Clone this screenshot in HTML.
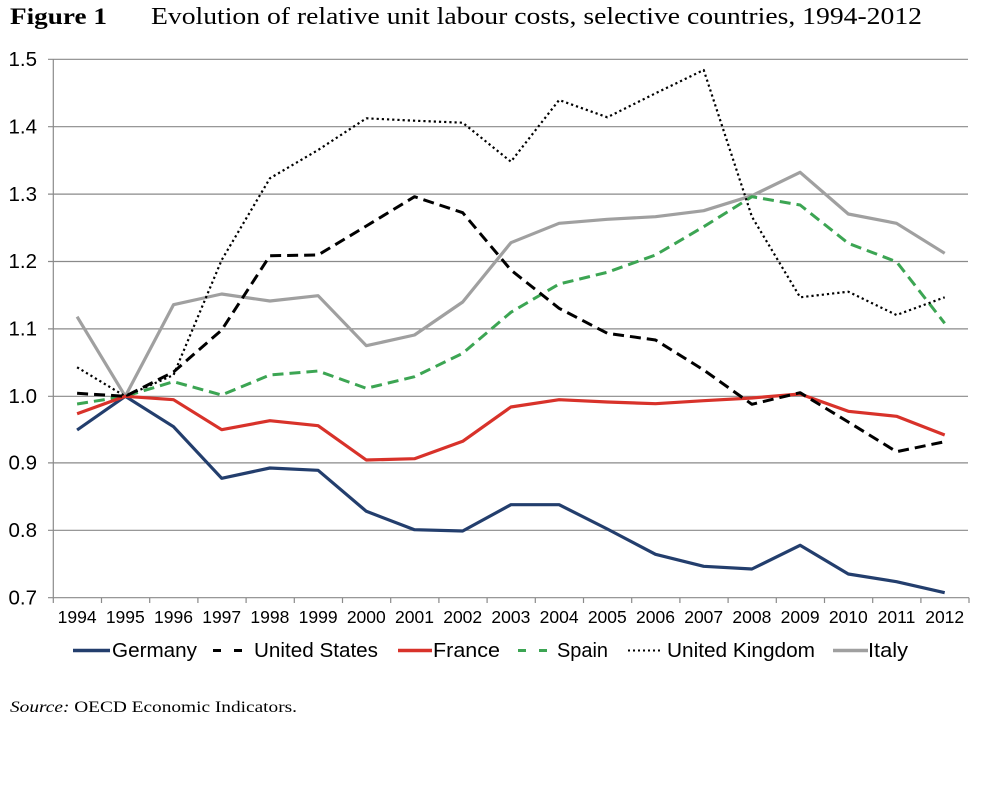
<!DOCTYPE html>
<html>
<head>
<meta charset="utf-8">
<style>
html,body{margin:0;padding:0;background:#fff;}
svg{display:block;}
</style>
</head>
<body>
<svg width="984" height="807" viewBox="0 0 984 807" xmlns="http://www.w3.org/2000/svg">
<rect width="984" height="807" fill="#fff"/>
<!-- Title -->
<text x="10" y="24" font-family="Liberation Serif, serif" font-weight="bold" font-size="23" textLength="97" lengthAdjust="spacingAndGlyphs" fill="#000">Figure 1</text>
<text x="151" y="24" font-family="Liberation Serif, serif" font-size="24" textLength="771" lengthAdjust="spacingAndGlyphs" fill="#000">Evolution of relative unit labour costs, selective countries, 1994-2012</text>

<!-- Gridlines -->
<g stroke="#8a8a8a" stroke-width="1.2" fill="none">
<line x1="48" y1="59.3" x2="968" y2="59.3"/>
<line x1="48" y1="126.7" x2="968" y2="126.7"/>
<line x1="48" y1="194.1" x2="968" y2="194.1"/>
<line x1="48" y1="261.5" x2="968" y2="261.5"/>
<line x1="48" y1="328.9" x2="968" y2="328.9"/>
<line x1="48" y1="396.3" x2="968" y2="396.3"/>
<line x1="48" y1="462.9" x2="968" y2="462.9"/>
<line x1="48" y1="530.3" x2="968" y2="530.3"/>
<line x1="48" y1="597.7" x2="969" y2="597.7"/>
<line x1="53.3" y1="59.3" x2="53.3" y2="597.7"/>
</g>
<!-- X ticks -->
<g stroke="#8a8a8a" stroke-width="1.2">
<line x1="53.3" y1="597.7" x2="53.3" y2="603"/>
<line x1="101.5" y1="597.7" x2="101.5" y2="603"/>
<line x1="149.7" y1="597.7" x2="149.7" y2="603"/>
<line x1="197.9" y1="597.7" x2="197.9" y2="603"/>
<line x1="246.1" y1="597.7" x2="246.1" y2="603"/>
<line x1="294.3" y1="597.7" x2="294.3" y2="603"/>
<line x1="342.5" y1="597.7" x2="342.5" y2="603"/>
<line x1="390.7" y1="597.7" x2="390.7" y2="603"/>
<line x1="438.9" y1="597.7" x2="438.9" y2="603"/>
<line x1="487.1" y1="597.7" x2="487.1" y2="603"/>
<line x1="535.3" y1="597.7" x2="535.3" y2="603"/>
<line x1="583.5" y1="597.7" x2="583.5" y2="603"/>
<line x1="631.7" y1="597.7" x2="631.7" y2="603"/>
<line x1="679.9" y1="597.7" x2="679.9" y2="603"/>
<line x1="728.1" y1="597.7" x2="728.1" y2="603"/>
<line x1="776.3" y1="597.7" x2="776.3" y2="603"/>
<line x1="824.5" y1="597.7" x2="824.5" y2="603"/>
<line x1="872.7" y1="597.7" x2="872.7" y2="603"/>
<line x1="920.9" y1="597.7" x2="920.9" y2="603"/>
<line x1="969" y1="597.7" x2="969" y2="603"/>
</g>

<!-- Y labels -->
<g font-family="Liberation Sans, sans-serif" font-size="20.5" fill="#000" text-anchor="end">
<text x="37" y="66">1.5</text>
<text x="37" y="133.4">1.4</text>
<text x="37" y="200.8">1.3</text>
<text x="37" y="268.2">1.2</text>
<text x="37" y="335.6">1.1</text>
<text x="37" y="403">1.0</text>
<text x="37" y="469.6">0.9</text>
<text x="37" y="537">0.8</text>
<text x="37" y="604.4">0.7</text>
</g>

<!-- X labels -->
<g font-family="Liberation Sans, sans-serif" font-size="17.5" fill="#000" text-anchor="middle">
<text x="77.1" y="623">1994</text>
<text x="125.3" y="623">1995</text>
<text x="173.5" y="623">1996</text>
<text x="221.7" y="623">1997</text>
<text x="269.9" y="623">1998</text>
<text x="318.1" y="623">1999</text>
<text x="366.3" y="623">2000</text>
<text x="414.5" y="623">2001</text>
<text x="462.7" y="623">2002</text>
<text x="510.9" y="623">2003</text>
<text x="559.1" y="623">2004</text>
<text x="607.3" y="623">2005</text>
<text x="655.5" y="623">2006</text>
<text x="703.7" y="623">2007</text>
<text x="751.9" y="623">2008</text>
<text x="800.1" y="623">2009</text>
<text x="848.3" y="623">2010</text>
<text x="896.5" y="623">2011</text>
<text x="944.7" y="623">2012</text>
</g>

<!-- Series -->
<g fill="none" stroke-linejoin="round">
<!-- Italy -->
<polyline stroke="#a0a0a0" stroke-width="3.2" points="77.1,316.7 125.3,396.3 173.5,304.7 221.7,294 269.9,301 318.1,295.7 366.3,345.7 414.5,335 462.7,302 510.9,242.7 559.1,223.3 607.3,219.3 655.5,216.7 703.7,210.7 751.9,195.7 800.1,172.3 848.3,214 896.5,223.3 944.7,253.3"/>
<!-- Spain -->
<polyline stroke="#3ca553" stroke-width="3" stroke-dasharray="11 6" points="77.1,404 125.3,396.3 173.5,381.7 221.7,395 269.9,375 318.1,371 366.3,388.3 414.5,376.7 462.7,353.3 510.9,312.3 559.1,284 607.3,272.3 655.5,255 703.7,226.7 751.9,196.7 800.1,205 848.3,243.3 896.5,261.7 944.7,323.3"/>
<!-- Germany -->
<polyline stroke="#233e6d" stroke-width="3.2" points="77.1,430 125.3,396.3 173.5,426.7 221.7,478.3 269.9,468 318.1,470.3 366.3,511.3 414.5,529.7 462.7,531 510.9,504.7 559.1,504.7 607.3,529 655.5,554.3 703.7,566.3 751.9,569 800.1,545.3 848.3,574 896.5,581.7 944.7,592.7"/>
<!-- France -->
<polyline stroke="#d8322a" stroke-width="3.2" points="77.1,413.7 125.3,396.3 173.5,399.7 221.7,429.7 269.9,420.7 318.1,425.7 366.3,460 414.5,458.7 462.7,441.3 510.9,407 559.1,399.7 607.3,402 655.5,403.7 703.7,400.7 751.9,398 800.1,394 848.3,411.3 896.5,416.3 944.7,435"/>
<!-- United States -->
<polyline stroke="#000" stroke-width="3" stroke-dasharray="11 6" points="77.1,393.3 125.3,396.3 173.5,372 221.7,330 269.9,255.7 318.1,255 366.3,226 414.5,196.7 462.7,212.7 510.9,270 559.1,308.3 607.3,333.3 655.5,340 703.7,370 751.9,404.3 800.1,392.7 848.3,422 896.5,451.7 944.7,441.7"/>
<!-- United Kingdom -->
<polyline stroke="#000" stroke-width="2.2" stroke-dasharray="2.2 3" points="77.1,367.3 125.3,396.3 173.5,375 221.7,260 269.9,178.3 318.1,150 366.3,118.3 414.5,120.7 462.7,122.7 510.9,161.7 559.1,100 607.3,117.3 655.5,93.3 703.7,70 751.9,216.7 800.1,297.3 848.3,291.7 896.5,315 944.7,297.3"/>
</g>

<!-- Legend -->
<g fill="none">
<line x1="73" y1="650.5" x2="110" y2="650.5" stroke="#233e6d" stroke-width="3.5"/>
<line x1="213" y1="650.5" x2="242" y2="650.5" stroke="#000" stroke-width="3" stroke-dasharray="8 13"/>
<line x1="398" y1="650.5" x2="432" y2="650.5" stroke="#d8322a" stroke-width="3.5"/>
<line x1="518" y1="650.5" x2="547" y2="650.5" stroke="#3ca553" stroke-width="3" stroke-dasharray="8 13"/>
<line x1="628" y1="650.5" x2="662" y2="650.5" stroke="#000" stroke-width="2" stroke-dasharray="2 3"/>
<line x1="833" y1="650.5" x2="868" y2="650.5" stroke="#a0a0a0" stroke-width="3.5"/>
</g>
<g font-family="Liberation Sans, sans-serif" font-size="20.5" fill="#000">
<text x="112" y="657" textLength="85" lengthAdjust="spacingAndGlyphs">Germany</text>
<text x="254" y="657" textLength="124" lengthAdjust="spacingAndGlyphs">United States</text>
<text x="433" y="657" textLength="67" lengthAdjust="spacingAndGlyphs">France</text>
<text x="557" y="657" textLength="51" lengthAdjust="spacingAndGlyphs">Spain</text>
<text x="667" y="657" textLength="148" lengthAdjust="spacingAndGlyphs">United Kingdom</text>
<text x="868" y="657" textLength="40" lengthAdjust="spacingAndGlyphs">Italy</text>
</g>

<!-- Source -->
<text x="10" y="712" font-family="Liberation Serif, serif" font-size="16" fill="#000" textLength="287" lengthAdjust="spacingAndGlyphs"><tspan font-style="italic">Source:</tspan> OECD Economic Indicators.</text>
</svg>
</body>
</html>
